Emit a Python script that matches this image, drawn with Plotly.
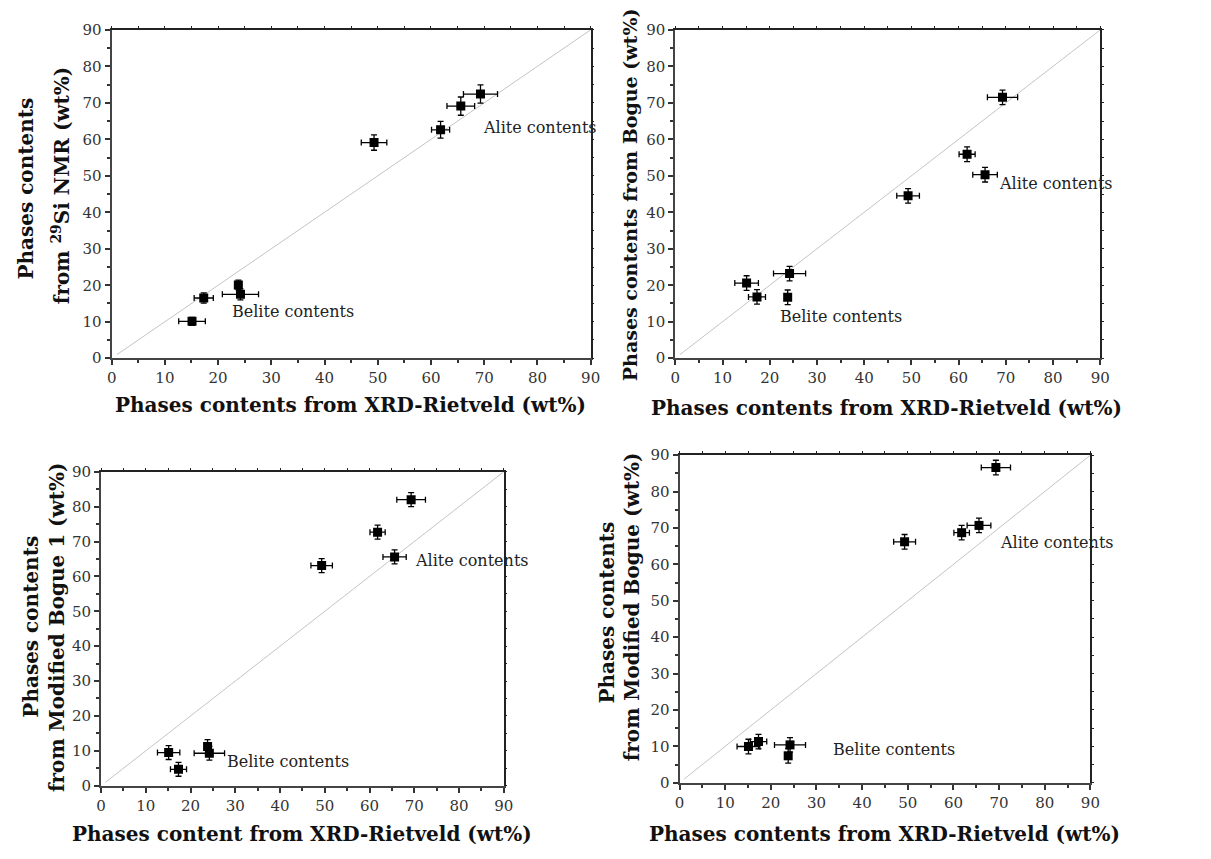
import plotly.graph_objects as go

# XRD-Rietveld contents (x of every panel): belite samples then alite samples
xrd = [15.1, 17.3, 23.8, 24.2, 49.3, 61.8, 65.6, 69.3]
xrd_err = [2.5, 1.8, 0.6, 3.4, 2.4, 1.7, 2.6, 3.2]

# Contents from the other methods, same sample order
nmr = [10.1, 16.5, 20.1, 17.5, 59.1, 62.6, 69.1, 72.4]
nmr_err = [1.1, 1.4, 1.3, 1.5, 2.1, 2.3, 2.5, 2.5]
bogue = [20.6, 16.8, 16.7, 23.2, 44.5, 55.9, 50.3, 71.5]
bogue_err = [2.0, 2.0, 2.0, 2.0, 2.0, 2.0, 2.0, 2.0]
mod_bogue1 = [9.5, 4.7, 11.2, 9.3, 63.1, 72.7, 65.6, 82.0]
mod_bogue1_err = [2.0, 2.0, 2.0, 2.0, 2.0, 2.0, 2.0, 2.0]
mod_bogue = [9.95, 11.3, 7.4, 10.4, 66.2, 68.7, 70.7, 86.6]
mod_bogue_err = [2.0, 2.0, 2.0, 2.0, 2.0, 2.0, 2.0, 2.0]

# y = x reference line
diag = [1, 90]

tick_vals = [0, 10, 20, 30, 40, 50, 60, 70, 80, 90]
tick_text = [str(v) for v in tick_vals]

# label positions (data coordinates): alite, belite
alite_pos = [(69.4, 63.3), (68.1, 48.0), (69.8, 64.7), (69.7, 65.9)]
belite_pos = [(22.3, 12.8), (21.8, 11.5), (27.7, 7.0), (33.1, 9.0)]

W, H = 1211, 859

def px(x):
    return x / W

def py(y):
    return 1 - y / H

# plot-area boxes in pixels: left, right, top, bottom
boxes = [
    (108.0, 593.0, 21.3, 356.7),
    (678.7, 1109.0, 21.3, 356.7),
    (97.3, 505.0, 472.7, 793.3),
    (683.0, 1099.0, 455.7, 790.3),
]

series = [(nmr, nmr_err), (bogue, bogue_err), (mod_bogue1, mod_bogue1_err), (mod_bogue, mod_bogue_err)]

SERIF = "DejaVu Serif"
fig = go.Figure()
layout = dict(
    width=W, height=H, autosize=False,
    margin=dict(l=0, r=0, t=0, b=0),
    paper_bgcolor="white", plot_bgcolor="white",
    showlegend=False,
    font=dict(family=SERIF, color="#222"),
)
annotations = []

for i, ((l, r, t, b), (yv, ye)) in enumerate(zip(boxes, series), start=1):
    xa = "x" if i == 1 else f"x{i}"
    ya = "y" if i == 1 else f"y{i}"
    xk = "xaxis" if i == 1 else f"xaxis{i}"
    yk = "yaxis" if i == 1 else f"yaxis{i}"
    j = i + 4
    layout[xk] = dict(
        domain=[px(l), px(r)], anchor=ya, range=[0, 90],
        tickmode="array", tickvals=tick_vals, ticktext=tick_text,
        ticks="outside", ticklen=5, tickwidth=1.5, tickcolor="#333",
        minor=dict(ticks="outside", ticklen=3, dtick=5, tickwidth=1.5, tickcolor="#333"),
        showline=True, linewidth=2, linecolor="#444",
        showgrid=False, zeroline=False,
        tickfont=dict(family=SERIF, size=15, color="#333"),
    )
    layout[yk] = dict(
        domain=[py(b), py(t)], anchor=xa, range=[0, 90],
        tickmode="array", tickvals=tick_vals, ticktext=tick_text,
        ticks="outside", ticklen=5, tickwidth=1.5, tickcolor="#333",
        minor=dict(ticks="outside", ticklen=3, dtick=5, tickwidth=1.5, tickcolor="#333"),
        showline=True, linewidth=2, linecolor="#444",
        showgrid=False, zeroline=False,
        tickfont=dict(family=SERIF, size=15, color="#333"),
    )
    # top and right frame with small ticks
    layout[f"xaxis{j}"] = dict(
        overlaying=xa, side="top", anchor=ya, range=[0, 90],
        dtick=5, ticks="outside", ticklen=2, tickwidth=1, tickcolor="#222",
        showticklabels=False, showline=True, linewidth=1.5, linecolor="#222",
        showgrid=False, zeroline=False,
    )
    layout[f"yaxis{j}"] = dict(
        overlaying=ya, side="right", anchor=xa, range=[0, 90],
        dtick=5, ticks="outside", ticklen=2, tickwidth=1, tickcolor="#222",
        showticklabels=False, showline=True, linewidth=1.5, linecolor="#222",
        showgrid=False, zeroline=False,
    )
    fig.add_trace(go.Scatter(x=[None], y=[None], xaxis=f"x{j}", yaxis=f"y{j}",
                             mode="markers", hoverinfo="skip"))

    fig.add_trace(go.Scatter(
        x=diag, y=diag, xaxis=xa, yaxis=ya, mode="lines",
        line=dict(color="#c4c4c4", width=1), hoverinfo="skip",
    ))
    fig.add_trace(go.Scatter(
        x=xrd, y=yv, xaxis=xa, yaxis=ya, mode="markers",
        marker=dict(symbol="square", size=9, color="black"),
        error_x=dict(type="data", array=xrd_err, color="black", thickness=1.3, width=3),
        error_y=dict(type="data", array=ye, color="black", thickness=1.3, width=3),
    ))
    ax, ay = alite_pos[i - 1]
    bx, by = belite_pos[i - 1]
    for (tx, ty, txt) in [(ax, ay, "Alite contents"), (bx, by, "Belite contents")]:
        annotations.append(dict(
            x=tx, y=ty, xref=xa, yref=ya, text=txt, showarrow=False,
            xanchor="left", yanchor="middle",
            font=dict(family=SERIF, size=16, color="#222"),
        ))

# axis titles
title_font = dict(family=SERIF, size=20, color="#111", weight="bold")
x_titles = [
    (350.0, 404.0, "Phases contents from XRD-Rietveld (wt%)"),
    (892.5, 408.0, "Phases contents from XRD-Rietveld (wt%)"),
    (300.8, 843.0, "Phases content from XRD-Rietveld (wt%)"),
    (890.8, 843.0, "Phases contents from XRD-Rietveld (wt%)"),
]
for (cx, cy, txt) in x_titles:
    annotations.append(dict(
        x=px(cx), y=py(cy), xref="paper", yref="paper", text=f"<b>{txt}</b>",
        showarrow=False, xanchor="center", yanchor="middle", font=title_font,
    ))

y_titles = [
    (21.7, 183.0, "Phases contents", 20),
    (56.7, 180.0, "from <sup>29</sup>Si NMR (wt%)", 20),
    (633.0, 190.0, "Phases contents from Bogue (wt%)", 19),
    (26.7, 630.5, "Phases contents", 20),
    (53.3, 631.7, "from Modified Bogue 1 (wt%)", 20),
    (610.0, 616.0, "Phases contents", 20),
    (635.0, 611.0, "from Modified Bogue (wt%)", 20),
]
for (cx, cy, txt, sz) in y_titles:
    annotations.append(dict(
        x=px(cx), y=py(cy), xref="paper", yref="paper", text=f"<b>{txt}</b>",
        showarrow=False, xanchor="center", yanchor="middle", textangle=-90,
        font=dict(title_font, size=sz),
    ))

layout["annotations"] = annotations
fig.update_layout(**layout)
fig.write_html("out.html")
